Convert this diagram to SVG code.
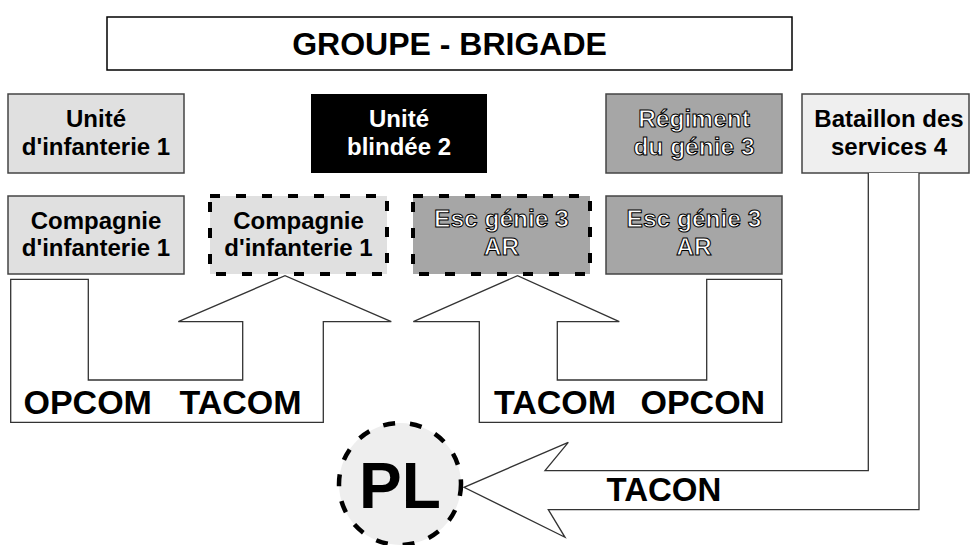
<svg xmlns="http://www.w3.org/2000/svg" width="975" height="545" viewBox="0 0 975 545">
  <style>
    text { font-family: "Liberation Sans", Arial, sans-serif; }
    .box { stroke: #444; stroke-width: 1.5; }
    .light { fill: #e0e0e0; }
    .mid { fill: #a6a6a6; }
    .pale { fill: #efefef; }
    .dashed { stroke: #000; stroke-width: 4; stroke-dasharray: 10 16; }
    .lbl { font-size: 24px; font-weight: bold; fill: #000; text-anchor: middle; }
    .lbl-w { font-size: 24px; font-weight: bold; fill: #fff; text-anchor: middle; }
    .outl { font-size: 24.5px; font-weight: bold; fill: #fff; stroke: #000; stroke-width: 1; text-anchor: middle; }
    .arrow { fill: #fff; stroke: #333; stroke-width: 1.3; stroke-linejoin: miter; }
    .big { font-size: 34px; font-weight: bold; fill: #000; }
  </style>

  <rect width="975" height="545" fill="#fff"/>

  <!-- headquarters banner -->
  <g id="groupe-brigade">
    <rect x="107" y="17" width="685" height="53" fill="#fff" stroke="#000" stroke-width="1.5"/>
    <text x="449.5" y="55" style="font-size:32px;font-weight:bold;text-anchor:middle">GROUPE - BRIGADE</text>
  </g>

  <!-- first row: parent units -->
  <g id="unite-infanterie">
    <rect class="box light" x="8" y="94" width="176" height="79"/>
    <text class="lbl" x="96" y="127">Unité</text>
    <text class="lbl" x="96" y="155">d'infanterie 1</text>
  </g>
  <g id="unite-blindee">
    <rect x="311" y="94" width="176" height="79" fill="#000"/>
    <text class="lbl-w" x="399" y="127">Unité</text>
    <text class="lbl-w" x="399" y="155">blindée 2</text>
  </g>
  <g id="regiment-genie">
    <rect class="box mid" x="606" y="94" width="176" height="79"/>
    <text class="outl" x="694" y="127">Régiment</text>
    <text class="outl" x="694" y="155">du génie 3</text>
  </g>
  <g id="bataillon-services">
    <rect class="box pale" x="802" y="94" width="167" height="79"/>
    <text class="lbl" x="889" y="127">Bataillon des</text>
    <text class="lbl" x="889" y="155">services 4</text>
  </g>

  <!-- second row: sub-units -->
  <g id="compagnie-infanterie">
    <rect class="box light" x="8" y="196" width="176" height="78"/>
    <text class="lbl" x="96" y="229">Compagnie</text>
    <text class="lbl" x="96" y="256">d'infanterie 1</text>
  </g>
  <g id="compagnie-detachee">
    <rect class="light" x="210" y="196" width="177" height="78"/>
    <rect class="dashed" x="210" y="196" width="177" height="78" fill="none"/>
    <text class="lbl" x="298.5" y="229">Compagnie</text>
    <text class="lbl" x="298.5" y="256">d'infanterie 1</text>
  </g>
  <g id="esc-genie-detache">
    <rect class="mid" x="413" y="196" width="177" height="78"/>
    <rect class="dashed" x="413" y="196" width="177" height="78" fill="none"/>
    <text class="outl" x="501.5" y="227">Esc génie 3</text>
    <text class="outl" x="501.5" y="255">AR</text>
  </g>
  <g id="esc-genie">
    <rect class="box mid" x="606" y="196" width="176" height="78"/>
    <text class="outl" x="694" y="227">Esc génie 3</text>
    <text class="outl" x="694" y="255">AR</text>
  </g>

  <!-- PL -->
  <g id="pl">
    <circle cx="400" cy="484" r="61" fill="#eee"/>
    <circle cx="400" cy="484" r="61" fill="none" stroke="#000" stroke-width="4.5" stroke-dasharray="12 15"/>
    <text x="400" y="508" style="font-size:64px;font-weight:bold;text-anchor:middle">PL</text>
  </g>

  <!-- command relationship arrows -->
  <g id="connectors">
    <path class="arrow" d="M10.7,279.3 H88.3 V380 H242.7 V321.7 H178.3 L285,275.7 L391.3,321.7 H323.3 V422.3 H10.7 Z"/>
    <text class="big" y="414"><tspan x="23.5">OPCOM</tspan><tspan x="179.5">TACOM</tspan></text>

    <path class="arrow" d="M413.3,321.7 L517.5,275.7 L619.3,321.7 H557.3 V380 H706.7 V279.3 H781.7 V422.3 H479.3 V321.7 Z"/>
    <text class="big" y="414"><tspan x="494">TACOM</tspan><tspan x="640.5">OPCON</tspan></text>

    <path class="arrow" d="M868.3,173 V470.7 H545 L568.3,442.3 L464,487.3 L565,537.3 L548.3,509.7 H919 V173"/>
    <text class="big" x="606.5" y="500.7" style="font-size:33px">TACON</text>
  </g>
</svg>
